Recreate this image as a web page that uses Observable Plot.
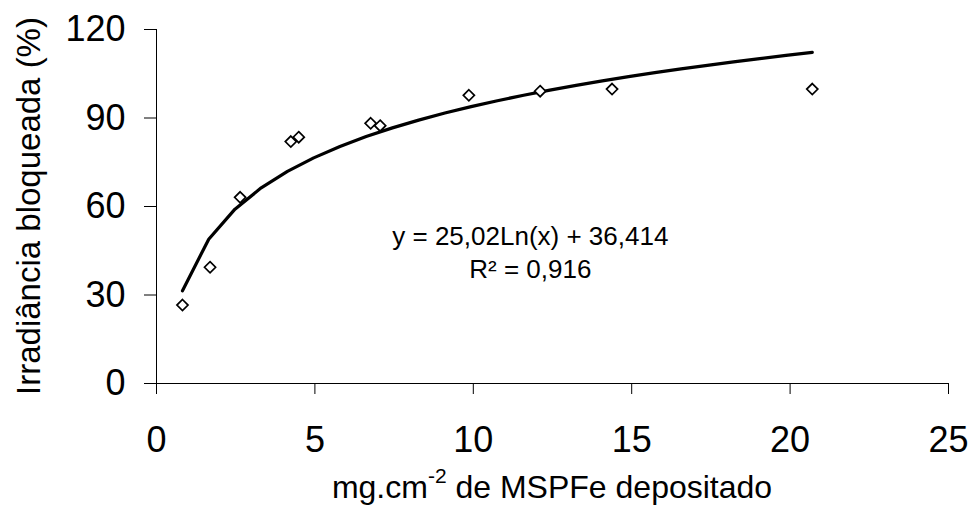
<!DOCTYPE html>
<html>
<head>
<meta charset="utf-8">
<script src="https://cdn.jsdelivr.net/npm/d3@7"></script>
<script src="https://cdn.jsdelivr.net/npm/@observablehq/plot@0.6"></script>
<style>
  html, body { margin: 0; padding: 0; background: #fff; }
  #chart svg { display: block; font-family: "Liberation Sans", Arial, sans-serif; }
</style>
</head>
<body>
<div id="chart"></div>
<script>
// Deposited particulate matter (mg.cm-2) and the share of irradiance it blocks
const dose = [0.82, 1.69, 2.64, 4.24, 4.49, 6.76, 7.06, 9.86, 12.11, 14.38, 20.7];
const blocked = [26.6, 39.4, 63.1, 82.0, 83.5, 88.2, 87.4, 97.7, 99.1, 99.8, 99.8];

// Axis ticks
const xTicks = [0, 5, 10, 15, 20, 25];
const yTicks = [0, 30, 60, 90, 120];

// Logarithmic trend line: y = a·ln(x) + b
const fitSlope = 25.02;
const fitIntercept = 36.414;
const fitR2 = 0.916;

// Labels
const xTitle = ["mg.cm", "-2", " de MSPFe depositado"];
const yTitle = "Irradiância bloqueada (%)";

const W = 971, H = 507;
const font = "'Liberation Sans', Arial, sans-serif";

const points = dose.map((d, i) => ({dose: d, blocked: blocked[i]}));

// trend drawn over the observed range
const steps = 24;
const xMin = d3.min(dose), xMax = d3.max(dose);
const trend = d3.range(steps + 1).map(i => {
  const x = xMin + (xMax - xMin) * i / steps;
  return {dose: x, blocked: fitSlope * Math.log(x) + fitIntercept};
});

const comma = v => String(v).replace(".", ",");
const equation = [{
  x: 11.8,
  y: 45,
  label: `y = ${comma(fitSlope)}Ln(x) + ${comma(fitIntercept)}\nR² = ${comma(fitR2)}`
}];

// hollow diamond (square rotated 45°)
const diamond = {
  draw(ctx, size) {
    const r = Math.sqrt(size) * 0.62625;
    ctx.moveTo(0, -r); ctx.lineTo(r, 0); ctx.lineTo(0, r); ctx.lineTo(-r, 0); ctx.closePath();
  }
};

const chart = Plot.plot({
  width: W,
  height: H,
  marginLeft: 156,
  marginRight: 23,
  marginTop: 29,
  marginBottom: 124,
  style: {fontFamily: font, fontSize: "36px", color: "#000", background: "#fff", overflow: "visible"},
  x: {domain: [0, 25]},
  y: {domain: [0, 120]},
  marks: [
    Plot.axisX({ticks: xTicks, tickSize: 11, tickPadding: 32, label: null, fontSize: 36}),
    Plot.axisY({ticks: yTicks, tickSize: 12, tickPadding: 19, label: null, fontSize: 36}),
    Plot.ruleX([0], {stroke: "#000", strokeWidth: 1}),
    Plot.ruleY([0], {stroke: "#000", strokeWidth: 1}),
    Plot.line(trend, {x: "dose", y: "blocked", stroke: "#000", strokeWidth: 3.2, strokeLinejoin: "round"}),
    Plot.dot(points, {x: "dose", y: "blocked", symbol: diamond, r: 5, stroke: "#000", strokeWidth: 1.7, fill: "#fff"}),
    Plot.text(equation, {x: "x", y: "y", text: "label", fontSize: 26, lineHeight: 1.3, textAnchor: "middle", lineAnchor: "middle", fill: "#000"})
  ]
});

document.getElementById("chart").append(chart);

// axis titles
const svg = d3.select(chart);
svg.append("text")
  .attr("transform", `translate(28,${(29 + 383) / 2}) rotate(-90)`)
  .attr("text-anchor", "middle")
  .attr("dy", "0.35em")
  .attr("font-size", 33)
  .attr("font-family", font)
  .attr("fill", "#000")
  .text(yTitle);

const xt = svg.append("text")
  .attr("x", (156 + 948) / 2)
  .attr("y", 498)
  .attr("text-anchor", "middle")
  .attr("font-size", 32)
  .attr("font-family", font)
  .attr("fill", "#000");
xt.append("tspan").text(xTitle[0]);
xt.append("tspan").attr("dy", -15).attr("font-size", 21).text(xTitle[1]);
xt.append("tspan").attr("dy", 15).text(xTitle[2]);
</script>
</body>
</html>
